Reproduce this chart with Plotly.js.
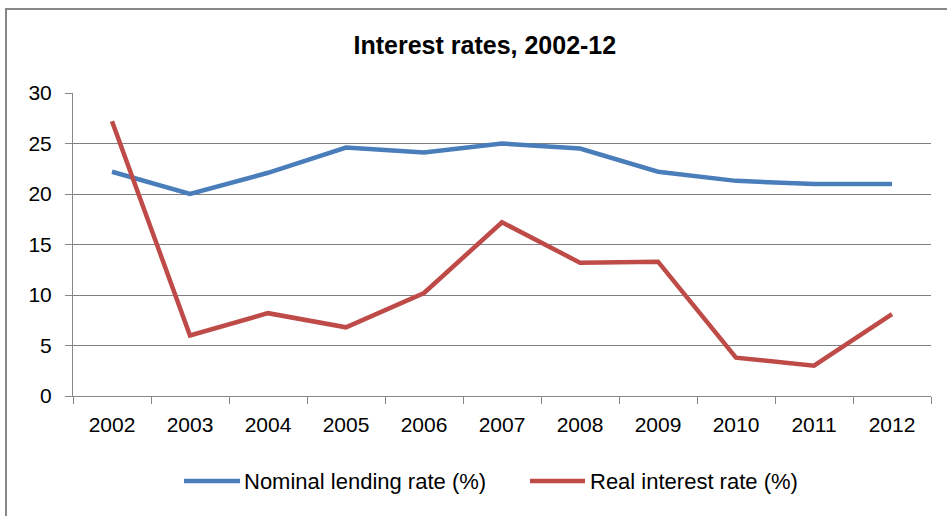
<!DOCTYPE html>
<html>
<head>
<meta charset="utf-8">
<script src="https://cdn.plot.ly/plotly-3.0.1.min.js"></script>
<style>
html,body{margin:0;padding:0;background:#fff;overflow:hidden;}
#wrap{position:relative;width:947px;height:516px;}
#chart{position:absolute;left:0;top:0;width:947px;height:516px;}
#frame{position:absolute;left:5px;top:8px;width:960px;height:530px;border:2px solid #878787;box-sizing:border-box;pointer-events:none;}
</style>
</head>
<body>
<div id="wrap"><div id="chart"></div><div id="frame"></div></div>
<script>
const years = ['2002','2003','2004','2005','2006','2007','2008','2009','2010','2011','2012'];
const nominalLendingRate = [22.2, 20.0, 22.1, 24.6, 24.1, 25.0, 24.5, 22.2, 21.3, 21.0, 21.0];
const realInterestRate = [27.2, 6.0, 8.2, 6.8, 10.2, 17.2, 13.2, 13.3, 3.8, 3.0, 8.1];
const yTicks = [0, 5, 10, 15, 20, 25, 30];
const seriesNames = ['Nominal lending rate (%)', 'Real interest rate (%)'];
const seriesColors = ['#4A7EBB', '#BE4B48'];

const font = "'Liberation Sans', Arial, sans-serif";
const traces = [
  {x: years, y: nominalLendingRate, type: 'scatter', mode: 'lines', name: seriesNames[0],
   line: {color: seriesColors[0], width: 4.5}},
  {x: years, y: realInterestRate, type: 'scatter', mode: 'lines', name: seriesNames[1],
   line: {color: seriesColors[1], width: 4.5}}
];

// legend drawn by hand (longer line samples than Plotly's built-in legend)
const mL = 73, mT = 93, plotW = 858, plotH = 303;
const px = v => (v - mL) / plotW;
const py = v => (mT + plotH - v) / plotH;
const legY = py(481);
const legendItems = [
  {x0: 184, x1: 240, tx: 243},
  {x0: 530, x1: 585, tx: 589}
];
const shapes = legendItems.map((it, i) => ({
  type: 'line', xref: 'paper', yref: 'paper', x0: px(it.x0), x1: px(it.x1), y0: legY, y1: legY,
  line: {color: seriesColors[i], width: 4.5}
}));
const annotations = legendItems.map((it, i) => ({
  text: seriesNames[i], xref: 'paper', yref: 'paper', x: px(it.tx), y: legY,
  xanchor: 'left', yanchor: 'middle', showarrow: false, borderpad: 0,
  font: {family: font, size: 22, color: '#000'}
}));

const layout = {
  width: 947, height: 516,
  margin: {l: mL, r: 16, t: mT, b: 120},
  paper_bgcolor: '#fff', plot_bgcolor: '#fff',
  font: {family: font, size: 21, color: '#000'},
  title: {text: '<b>Interest rates, 2002-12</b>', x: 0.512, xanchor: 'center', y: 0.913, yanchor: 'middle',
          font: {family: font, size: 25, color: '#000'}},
  xaxis: {type: 'category', range: [-0.5, 10.5], tickson: 'boundaries', ticks: 'outside', ticklen: 7, tickcolor: '#878787', tickwidth: 1,
          showline: true, linecolor: '#878787', linewidth: 1, showgrid: false, zeroline: false,
          ticklabelstandoff: 10, tickfont: {family: font, size: 21}, fixedrange: true},
  yaxis: {range: [0, 30], tickvals: yTicks, ticks: 'outside', ticklen: 7, tickcolor: '#878787', tickwidth: 1,
          showline: true, linecolor: '#878787', linewidth: 1, showgrid: true, gridcolor: '#808080', gridwidth: 1,
          zeroline: false, ticklabelstandoff: 9, tickfont: {family: font, size: 21}, fixedrange: true},
  showlegend: false,
  shapes: shapes,
  annotations: annotations
};
Plotly.newPlot('chart', traces, layout, {displayModeBar: false, staticPlot: true});
</script>
</body>
</html>
